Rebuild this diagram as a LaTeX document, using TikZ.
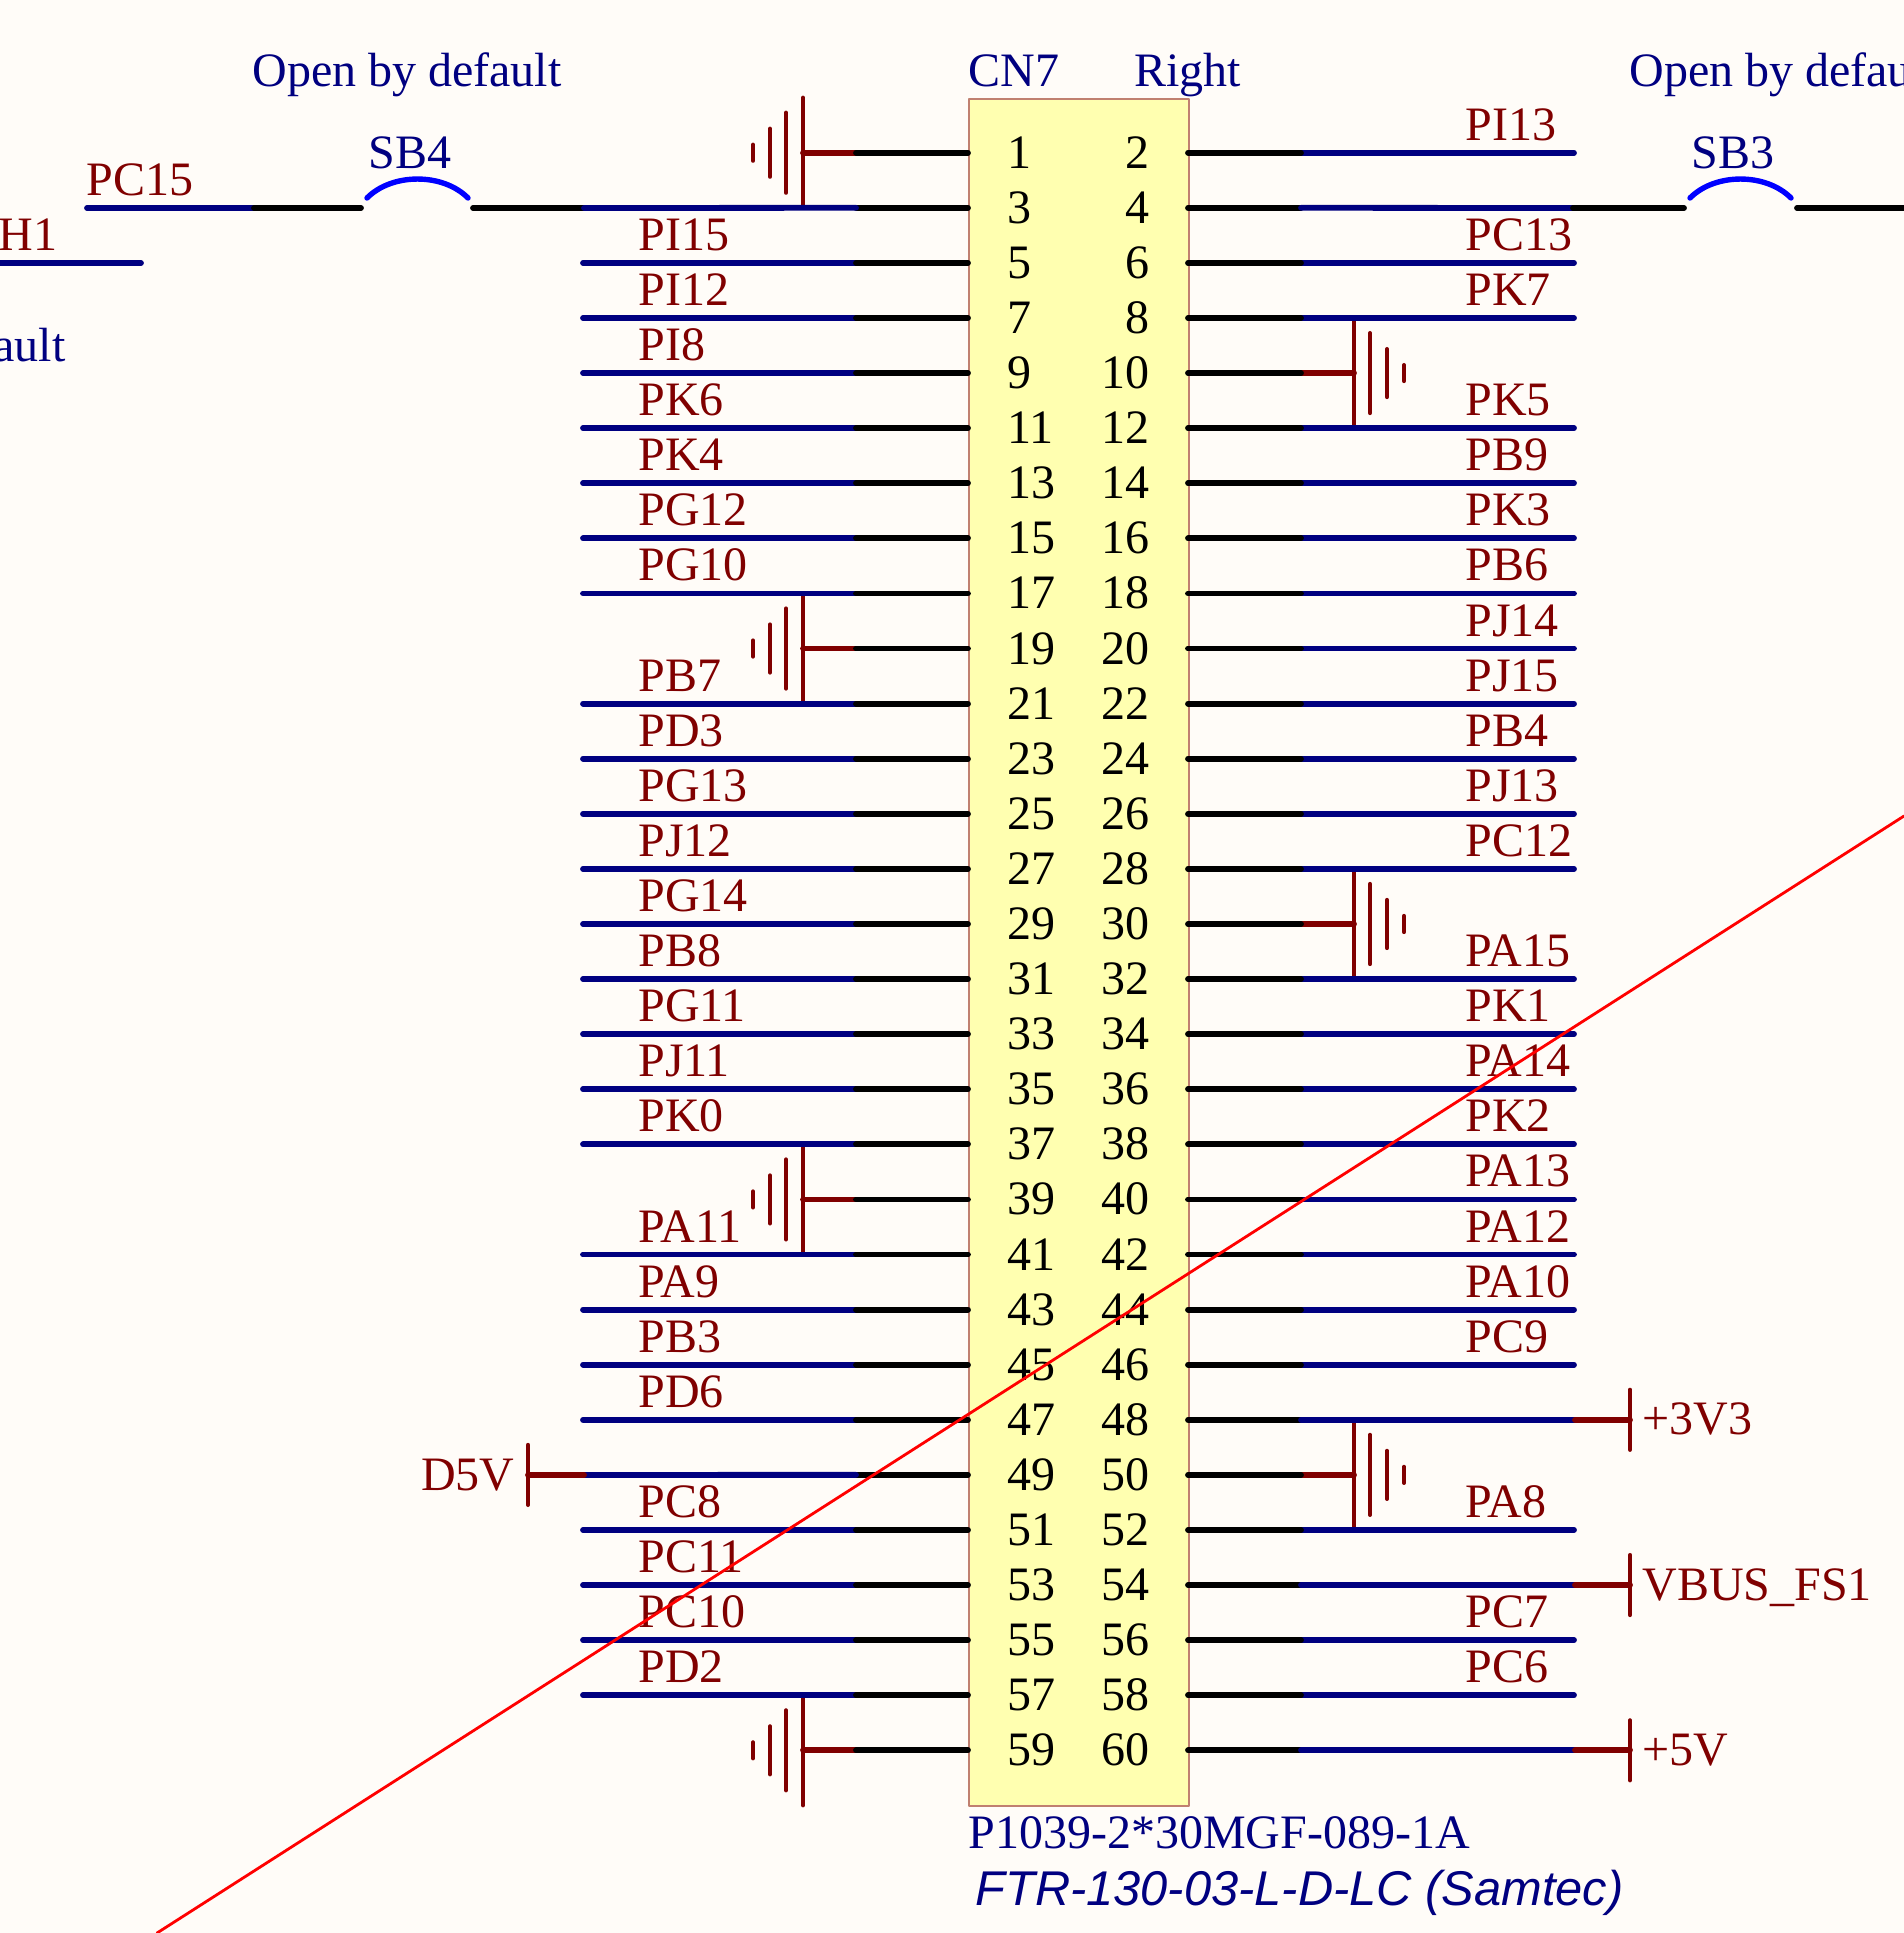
\documentclass[tikz,border=0pt]{standalone}
\usepackage{fontspec}
\setmainfont{Liberation Serif}
\newfontfamily\ftrfont{Liberation Sans}
\definecolor{bgpaper}{HTML}{FFFCF8}
\definecolor{bodyfill}{HTML}{FFFFB0}
\definecolor{bodyline}{HTML}{C08070}
\definecolor{netblue}{HTML}{000080}
\definecolor{pwrred}{HTML}{800000}
\tikzset{
  pinwire/.style={line width=2.9pt,color=black},
  netwire/.style={line width=2.9pt,color=netblue},
  stubwire/.style={line width=2.9pt,color=pwrred},
  gndbar/.style={line width=2.1pt,color=pwrred},
  sbarc/.style={line width=2.7pt,color=blue},
  txt/.style={inner sep=0pt,font=\fontsize{24}{28}\selectfont},
  netname/.style={txt,anchor=base west,color=pwrred},
  pwrname/.style={txt,anchor=base west,color=pwrred},
  bluetxt/.style={txt,anchor=base west,color=netblue},
  pinnum/.style={txt,color=black}
}
\begin{document}
\begin{tikzpicture}[line cap=round,line join=round,x=0.5pt,y=-0.5pt]
\clip (0,0) rectangle (1904,1933);
\fill[bgpaper] (0,0) rectangle (1904,1933);
\node[draw=bodyline,fill=bodyfill,line width=1.2pt,inner sep=0pt,anchor=north west,minimum width=110pt,minimum height=853.5pt] (body) at (968,98) {};
% pin points of both columns
\foreach \r [evaluate=\r as \y using 152.7+55.09*\r] in {0,...,29} {
  \coordinate (pinL\r) at (968,\y);
  \coordinate (kneeL\r) at (856,\y);
  \coordinate (endL\r) at (583,\y);
  \coordinate (pinR\r) at (1188,\y);
  \coordinate (kneeR\r) at (1301,\y);
  \coordinate (endR\r) at (1574,\y);
}
% ground symbols
\foreach \r [evaluate=\r as \y using 152.7+55.09*\r] in {0,9,19,29} {
  \begin{scope}[shift={(803,\y)}]
    \draw[gndbar] (0,-55)--(0,55);
    \draw[gndbar] (-17,-40)--(-17,40);
    \draw[gndbar] (-33,-24)--(-33,24);
    \draw[gndbar] (-50,-8)--(-50,8);
    \coordinate (gndL\r) at (0,0);
  \end{scope}
  \draw[stubwire] (kneeL\r)--(gndL\r);
}
\foreach \r [evaluate=\r as \y using 152.7+55.09*\r] in {4,14,24} {
  \begin{scope}[shift={(1354,\y)}]
    \draw[gndbar] (0,-55)--(0,55);
    \draw[gndbar] (16,-40)--(16,40);
    \draw[gndbar] (33,-24)--(33,24);
    \draw[gndbar] (50,-8)--(50,8);
    \coordinate (gndR\r) at (0,0);
  \end{scope}
  \draw[stubwire] (kneeR\r)--(gndR\r);
}
% left nets
\foreach \r/\t in {2/PI15,3/PI12,4/PI8,5/PK6,6/PK4,7/PG12,8/PG10,10/PB7,11/PD3,12/PG13,13/PJ12,14/PG14,15/PB8,16/PG11,17/PJ11,18/PK0,20/PA11,21/PA9,22/PB3,23/PD6,25/PC8,26/PC11,27/PC10,28/PD2} {
  \draw[netwire] (kneeL\r)--(endL\r);
  \node[netname] (labL\r) at ([shift={(55,-12.5)}]endL\r) {\t};
}
% right nets
\foreach \r/\t in {0/PI13,2/PC13,3/PK7,5/PK5,6/PB9,7/PK3,8/PB6,9/PJ14,10/PJ15,11/PB4,12/PJ13,13/PC12,15/PA15,16/PK1,17/PA14,18/PK2,19/PA13,20/PA12,21/PA10,22/PC9,25/PA8,27/PC7,28/PC6} {
  \draw[netwire] (kneeR\r)--(endR\r);
  \node[netname] (labR\r) at ([shift={(-109,-12.5)}]endR\r) {\t};
}
% black pin stubs
\foreach \r in {0,...,29} {
  \draw[pinwire] (pinL\r)--(kneeL\r);
  \draw[pinwire] (pinR\r)--(kneeR\r);
}
% power flags
\coordinate (barD5V) at (528,1474.9);
\coordinate (netD5V) at (584,1474.9);
\draw[netwire] (kneeL24)--(netD5V);
\draw[stubwire] (netD5V)--(barD5V);
\draw[gndbar] ([yshift=15pt]barD5V)--([yshift=-15pt]barD5V);
\node[pwrname,anchor=base east] (labD5V) at (515,1490) {D5V};
\foreach \r/\t [evaluate=\r as \y using 152.7+55.09*\r] in {23/+3V3,26/VBUS\_FS1,29/+5V} {
  \coordinate (netP\r) at (1575,\y);
  \coordinate (barP\r) at (1630,\y);
  \draw[netwire] (kneeR\r)--(netP\r);
  \draw[stubwire] (netP\r)--(barP\r);
  \draw[gndbar] ([yshift=15pt]barP\r)--([yshift=-15pt]barP\r);
  \node[pwrname] (labP\r) at ([shift={(12,15)}]barP\r) {\t};
}
% solder bridges
\coordinate (pc15a) at (87,208);
\coordinate (pc15b) at (254,208);
\coordinate (sb4a) at (361,208);
\coordinate (sb4b) at (473,208);
\coordinate (sb4c) at (584,208);
\draw[netwire] (pc15a)--(pc15b);
\draw[pinwire] (pc15b)--(sb4a);
\draw[sbarc] (367,198) .. controls (392,172.7) and (443,172.7) .. (468,198);
\draw[pinwire] (sb4b)--(sb4c);
\draw[netwire] (sb4c)--(kneeL1);
\coordinate (sb3a) at (1573,208);
\coordinate (sb3b) at (1684,208);
\coordinate (sb3c) at (1797,208);
\coordinate (sb3d) at (1920,208);
\draw[netwire] (kneeR1)--(sb3a);
\draw[pinwire] (sb3a)--(sb3b);
\draw[sbarc] (1690,198) .. controls (1715,172.7) and (1766,172.7) .. (1791,198);
\draw[pinwire] (sb3c)--(sb3d);
\coordinate (ph1a) at (-60,263);
\coordinate (ph1b) at (141,263);
\draw[netwire] (ph1a)--(ph1b);
\node[netname] (labPC15) at (86,195.7) {PC15};
\node[netname,anchor=base east] (labPH1) at (58,250) {PH1};
\node[bluetxt] (sb4) at (368,168.5) {SB4};
\node[bluetxt] (sb3) at (1691,168.5) {SB3};
\node[bluetxt] (open4) at (252,86) {Open by default};
\node[bluetxt] (open3) at (1629,86) {Open by default};
\node[bluetxt,anchor=base east] (openPH) at (66,361) {Open by default};
\node[bluetxt] (cn7) at (968,86) {CN7};
\node[bluetxt] (rightlab) at (1134,86) {Right};
\node[bluetxt] (part) at (968,1848) {P1039-2*30MGF-089-1A};
\node[bluetxt,font=\ftrfont\itshape\fontsize{24.4}{28}\selectfont] (ftr) at (975,1905.6) {FTR-130-03-L-D-LC (Samtec)};
% pin numbers
\foreach \r [evaluate=\r as \y using 152.7+55.09*\r, evaluate=\r as \a using int(2*\r+1), evaluate=\r as \b using int(2*\r+2)] in {0,...,29} {
  \node[pinnum,anchor=base west] (numL\r) at (1007,\y+15.5) {\a};
  \node[pinnum,anchor=base east] (numR\r) at (1150,\y+15.5) {\b};
}
% red mark across the sheet
\coordinate (cutA) at (157,1933);
\coordinate (cutB) at (1904,816);
\draw[color=red,line width=1.4pt] (cutA)--(cutB);
\end{tikzpicture}
\end{document}
